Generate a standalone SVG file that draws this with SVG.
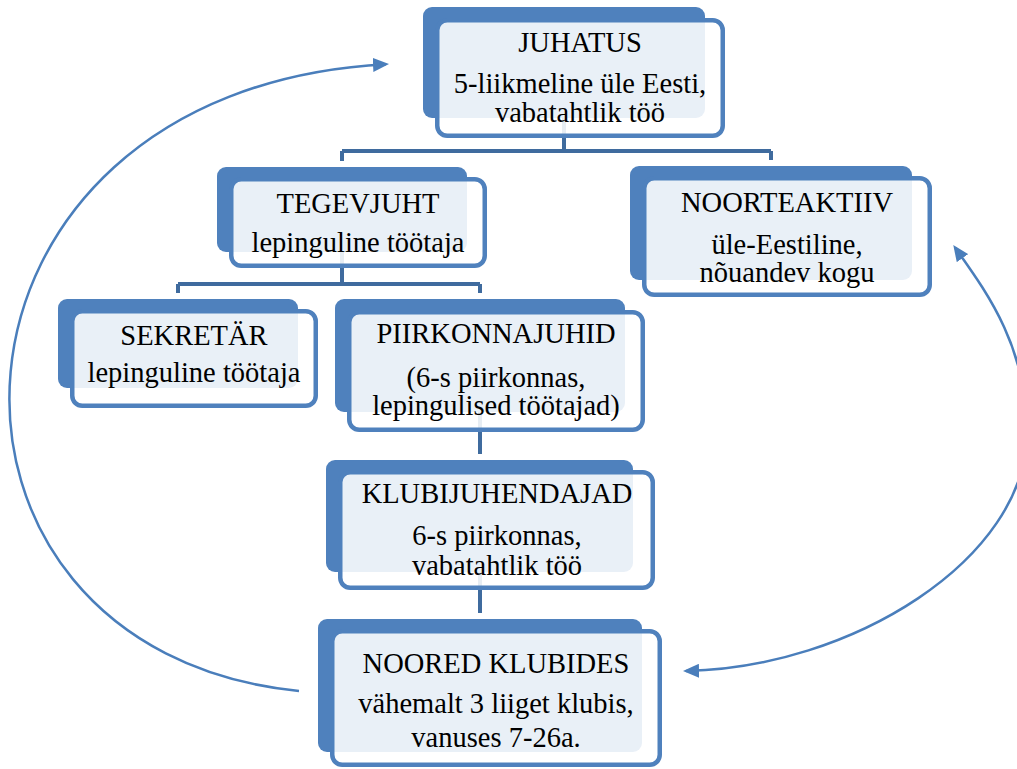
<svg xmlns="http://www.w3.org/2000/svg" width="1017" height="769" viewBox="0 0 1017 769">
<style>
.back{fill:#4F81BD}
.front{fill:#FFFFFF;fill-opacity:0.88;stroke:#4F81BD;stroke-width:4.5}
.conn{fill:none;stroke:#3F6B9E;stroke-width:4}
.curve{fill:none;stroke:#4A7EBB;stroke-width:2.5}
.t{font-family:'Times New Roman','Liberation Serif','DejaVu Serif',serif;font-size:28.5px;fill:#000;text-anchor:middle}
</style>
<defs>
<marker id="ah" viewBox="0 0 16 14" refX="13" refY="7" markerWidth="16" markerHeight="14" markerUnits="userSpaceOnUse" orient="auto-start-reverse">
<path d="M0,0 L16,7 L0,14 z" fill="#4A7EBB"/>
</marker>
</defs>
<rect width="1017" height="769" fill="#FFFFFF"/>
<g id="connectors">
<path class="conn" d="M564,118 V151 M342,151 H771 M342,151 V161 M771,151 V160"/>
<path class="conn" d="M342,252 V284 M178,284 H480 M178,284 V293 M480,284 V293"/>
<path class="conn" d="M480,412 V454"/>
<path class="conn" d="M480,572 V613"/>
<path class="curve" d="M299,691 C -110,650 -90,90 386,64.2" marker-end="url(#ah)"/>
<path class="curve" d="M686,671 C 850,668 1027,560 1027,432 C 1027,345 985,290 955,247.5" marker-start="url(#ah)" marker-end="url(#ah)"/>
</g>
<g id="juhatus">
<rect class="back" x="423" y="7" width="282" height="111" rx="9"/>
<rect class="front" x="437.25" y="20.25" width="285.5" height="115.5" rx="10"/>
<text class="t" x="580" y="52">JUHATUS</text>
<text class="t" x="580" y="93">5-liikmeline üle Eesti,</text>
<text class="t" x="580" y="122">vabatahtlik töö</text>
</g>
<g id="tegevjuht">
<rect class="back" x="217" y="167" width="250" height="85" rx="9"/>
<rect class="front" x="231.25" y="179.25" width="253.5" height="86.5" rx="10"/>
<text class="t" x="358" y="213">TEGEVJUHT</text>
<text class="t" x="358" y="252">lepinguline töötaja</text>
</g>
<g id="noorteaktiiv">
<rect class="back" x="630" y="166" width="282" height="114" rx="9"/>
<rect class="front" x="644.25" y="178.25" width="285.5" height="116.5" rx="10"/>
<text class="t" x="787" y="212">NOORTEAKTIIV</text>
<text class="t" x="787" y="254">üle-Eestiline,</text>
<text class="t" x="787" y="282">nõuandev kogu</text>
</g>
<g id="sekretar">
<rect class="back" x="58" y="299" width="240" height="89" rx="9"/>
<rect class="front" x="72.25" y="311.25" width="243.5" height="94.5" rx="10"/>
<text class="t" x="194" y="345">SEKRETÄR</text>
<text class="t" x="194" y="382">lepinguline töötaja</text>
</g>
<g id="piirkonnajuhid">
<rect class="back" x="335" y="299" width="290" height="113" rx="9"/>
<rect class="front" x="349.25" y="312.25" width="293.5" height="117.5" rx="10"/>
<text class="t" x="496" y="343">PIIRKONNAJUHID</text>
<text class="t" x="496" y="387">(6-s piirkonnas,</text>
<text class="t" x="496" y="415">lepingulised töötajad)</text>
</g>
<g id="klubijuhendajad">
<rect class="back" x="326" y="460" width="307" height="112" rx="9"/>
<rect class="front" x="340.25" y="472.25" width="312.5" height="115.5" rx="10"/>
<text class="t" x="497" y="503">KLUBIJUHENDAJAD</text>
<text class="t" x="497" y="545">6-s piirkonnas,</text>
<text class="t" x="497" y="575">vabatahtlik töö</text>
</g>
<g id="noored-klubides">
<rect class="back" x="318" y="619" width="324" height="133" rx="9"/>
<rect class="front" x="332.25" y="631.25" width="327.5" height="133.5" rx="10"/>
<text class="t" x="496" y="673">NOORED KLUBIDES</text>
<text class="t" x="496" y="713">vähemalt 3 liiget klubis,</text>
<text class="t" x="496" y="747">vanuses 7-26a.</text>
</g>
</svg>
